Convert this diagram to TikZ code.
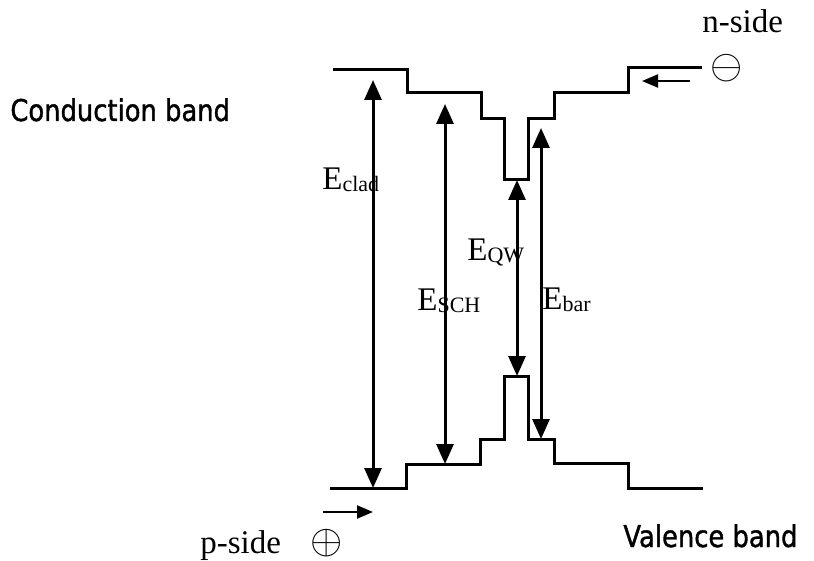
\documentclass[tikz,border=0pt]{standalone}
\usepackage{fontspec}
\setmainfont{Liberation Serif}
\newfontfamily\bandfont[FakeStretch=0.86, FakeBold=1.2]{DejaVu Sans}
\usepackage{tikz}
\usetikzlibrary{arrows.meta}
\newcommand{\Elab}[1]{E\raisebox{-1pt}{\fontsize{11}{12}\selectfont #1}}

\begin{document}
\begin{tikzpicture}[x=0.5pt, y=-0.5pt,
  >={Triangle[length=10pt, width=8.5pt]},
  band/.style={line width=1.5pt, line join=miter},
  gap/.style={<->, line width=1.5pt},
  flow/.style={-{Triangle[length=8pt, width=6.5pt]}, line width=1pt},
  lab/.style={font=\fontsize{16.5}{18}\selectfont, inner sep=0pt},
  pole/.style={font=\fontsize{21}{22}\selectfont, inner sep=0pt},
  side/.style={font=\bandfont\fontsize{15}{18}\selectfont, inner sep=0pt}]
  \useasboundingbox (0,0) rectangle (814,561);

  % band edges
  \draw[band] (333,70) -- (407,70) -- (407,93) -- (481,93) -- (481,119)
    -- (504,119) -- (504,180) -- (528,180) -- (528,119) -- (554,119)
    -- (554,93) -- (628,93) -- (628,68) -- (702,68);
  \draw[band] (330,488) -- (406,488) -- (406,464) -- (480,464) -- (480,439)
    -- (504,439) -- (504,376) -- (528,376) -- (528,439) -- (554,439)
    -- (554,463) -- (628,463) -- (628,488) -- (703,488);

  % energy gaps
  \coordinate (clad-c) at (373,80);
  \coordinate (clad-v) at (373,488);
  \coordinate (sch-c)  at (445,104);
  \coordinate (sch-v)  at (445,464);
  \coordinate (qw-c)   at (517,180);
  \coordinate (qw-v)   at (517,376);
  \coordinate (bar-c)  at (541,128);
  \coordinate (bar-v)  at (541,439);
  \draw[gap] (clad-c) -- (clad-v);
  \draw[gap] (sch-c) -- (sch-v);
  \draw[gap] (qw-c) -- (qw-v);
  \draw[gap] (bar-c) -- (bar-v);
  \node[lab, anchor=base west] (Eclad) at (322,190) {\Elab{clad}};
  \node[lab, anchor=base west] (Esch)  at (417,311) {\Elab{SCH}};
  \node[lab, anchor=base west] (Eqw)   at (467,261) {\Elab{QW}};
  \node[lab, anchor=base west] (Ebar)  at (542,310) {\Elab{bar}};

  % contacts
  \node[lab, anchor=base west] (nside) at (702,33) {n-side};
  \node[pole] (minus) at (727,68) {$\ominus$};
  \coordinate (n-in)  at (690,81);
  \coordinate (n-out) at (642,81);
  \draw[flow] (n-in) -- (n-out);
  \node[lab, anchor=base west] (pside) at (200,553) {p-side};
  \node[pole] (plus) at (327,543) {$\oplus$};
  \coordinate (p-in)  at (323,512);
  \coordinate (p-out) at (373,512);
  \draw[flow] (p-in) -- (p-out);

  \node[side, anchor=base west] (cb) at (10,121) {Conduction band};
  \node[side, anchor=base west] (vb) at (623,547) {Valence band};
\end{tikzpicture}
\end{document}
